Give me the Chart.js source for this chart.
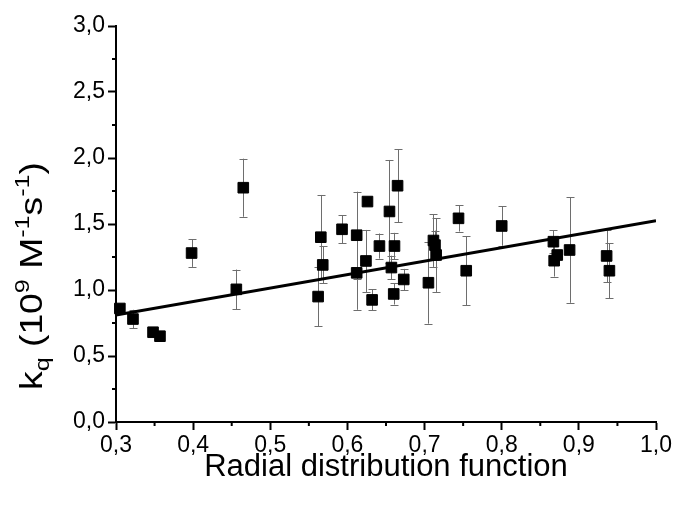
<!DOCTYPE html>
<html>
<head>
<meta charset="utf-8">
<script src="https://cdn.jsdelivr.net/npm/chart.js@4.4.1/dist/chart.umd.min.js"></script>
<style>
  html, body { margin: 0; padding: 0; background: #fff; }
  #wrap { width: 675px; height: 506px; position: relative; }
</style>
</head>
<body>
<div id="wrap"><canvas id="c" width="675" height="506"></canvas></div>
<script>
// ---- data ----
const xValues = [0.305,0.322,0.348,0.357,0.398,0.456,0.465,0.562,0.5655,0.568,0.593,0.612,0.612,0.624,0.626,0.632,0.6415,0.6545,0.657,0.660,0.661,0.665,0.673,0.705,0.7115,0.7135,0.715,0.744,0.754,0.800,0.867,0.868,0.872,0.888,0.936,0.9396];
const yValues = [0.86,0.78,0.68,0.65,1.28,1.005,1.775,0.95,1.40,1.19,1.46,1.415,1.13,1.22,1.67,0.925,1.333,1.595,1.17,0.97,1.333,1.79,1.08,1.055,1.375,1.34,1.265,1.543,1.146,1.485,1.366,1.222,1.265,1.303,1.258,1.146];
const yErrors = [0,0.07,0,0,0.105,0.15,0.22,0.225,0.32,0.14,0.105,0.33,0.28,0.235,0,0.08,0.095,0.39,0.09,0.08,0.1,0.275,0.08,0.31,0.2,0.11,0.28,0.10,0.263,0.15,0.085,0.12,0,0.40,0.2,0.21];
const fitX = [0.3, 1.0];
const fitY = [0.81, 1.525];
const xMinorTicks = [0.35,0.45,0.55,0.65,0.75,0.85,0.95];
const yMinorTicks = [0.25,0.75,1.25,1.75,2.25,2.75];
const xTitle = 'Radial distribution function';
const yTitleParts = [
  {t:'k', sup:0}, {t:'q', sup:-1}, {t:' (10', sup:0}, {t:'9', sup:1},
  {t:' M', sup:0}, {t:'-1', sup:1}, {t:'s', sup:0}, {t:'-1', sup:1}, {t:')', sup:0}
];

const FONT = '"Liberation Sans", Arial, sans-serif';
const fmt = v => Number(v).toFixed(1).replace('.', ',');

const errorBarPlugin = {
  id: 'errorBars',
  beforeDatasetsDraw(chart) {
    const {ctx, scales:{x, y}} = chart;
    ctx.save();
    ctx.strokeStyle = '#6e6e6e';
    ctx.lineWidth = 1;
    xValues.forEach((xv, i) => {
      const e = yErrors[i];
      if (!e) return;
      const px = Math.round(x.getPixelForValue(xv)) + 0.5;
      const top = y.getPixelForValue(yValues[i] + e);
      const bot = y.getPixelForValue(yValues[i] - e);
      ctx.beginPath();
      ctx.moveTo(px, top); ctx.lineTo(px, bot);
      ctx.moveTo(px - 4, Math.round(top) + 0.5); ctx.lineTo(px + 4, Math.round(top) + 0.5);
      ctx.moveTo(px - 4, Math.round(bot) + 0.5); ctx.lineTo(px + 4, Math.round(bot) + 0.5);
      ctx.stroke();
    });
    ctx.restore();
  }
};

const axisExtrasPlugin = {
  id: 'axisExtras',
  afterDraw(chart) {
    const {ctx, scales:{x, y}, chartArea} = chart;
    ctx.save();
    ctx.strokeStyle = '#000';
    ctx.lineWidth = 2;
    ctx.beginPath();
    xMinorTicks.forEach(v => {
      const px = x.getPixelForValue(v);
      ctx.moveTo(px, chartArea.bottom); ctx.lineTo(px, chartArea.bottom + 4);
    });
    yMinorTicks.forEach(v => {
      const py = y.getPixelForValue(v);
      ctx.moveTo(chartArea.left, py); ctx.lineTo(chartArea.left - 4, py);
    });
    ctx.stroke();

    // y axis title with sub/superscripts
    const big = 31, small = 21;
    ctx.fillStyle = '#000';
    ctx.textBaseline = 'alphabetic';
    let total = 0;
    yTitleParts.forEach(p => {
      ctx.font = (p.sup ? small : big) + 'px ' + FONT;
      p.w = ctx.measureText(p.t).width;
      total += p.w;
    });
    const cx = 42, cy = (chartArea.top + chartArea.bottom) / 2 + 52;
    ctx.translate(cx, cy);
    ctx.rotate(-Math.PI / 2);
    ctx.scale(1.2, 1);
    let pos = -total / 2;
    yTitleParts.forEach(p => {
      ctx.font = (p.sup ? small : big) + 'px ' + FONT;
      const dy = p.sup === 1 ? -13 : (p.sup === -1 ? 7 : 0);
      ctx.fillText(p.t, pos, dy);
      pos += p.w;
    });
    ctx.restore();
  }
};

const ctx = document.getElementById('c').getContext('2d');
new Chart(ctx, {
  type: 'scatter',
  data: {
    datasets: [
      {
        label: 'fit',
        type: 'line',
        data: fitX.map((v, i) => ({x: v, y: fitY[i]})),
        borderColor: '#000',
        borderWidth: 3,
        pointRadius: 0,
        showLine: true,
        fill: false,
        order: 1
      },
      {
        label: 'kq',
        data: xValues.map((v, i) => ({x: v, y: yValues[i]})),
        pointStyle: 'rect',
        pointRadius: 7.5,
        backgroundColor: '#000',
        borderColor: '#000',
        borderWidth: 1,
        clip: false,
        order: 2
      }
    ]
  },
  options: {
    responsive: false,
    animation: false,
    devicePixelRatio: 1,
    layout: { padding: { left: 0, top: 26, right: 19, bottom: 0 } },
    plugins: { legend: { display: false }, tooltip: { enabled: false } },
    scales: {
      x: {
        type: 'linear',
        min: 0.3, max: 1.0,
        afterFit: s => { s.height = 84; },
        ticks: {
          stepSize: 0.1,
          callback: fmt,
          color: '#000',
          font: { family: FONT, size: 23 },
          padding: 2,
          maxRotation: 0
        },
        grid: { display: true, drawOnChartArea: false, drawTicks: true, tickLength: 8, color: '#000', tickWidth: 2 },
        border: { display: true, color: '#000', width: 2 },
        title: {
          display: true, text: xTitle, color: '#000',
          font: { family: FONT, size: 31 },
          padding: { top: 0, bottom: 20 }
        }
      },
      y: {
        type: 'linear',
        min: 0, max: 3.0,
        afterFit: s => { s.width = 116; },
        ticks: {
          stepSize: 0.5,
          callback: fmt,
          color: '#000',
          font: { family: FONT, size: 23 },
          padding: 3
        },
        grid: { display: true, drawOnChartArea: false, drawTicks: true, tickLength: 8, color: '#000', tickWidth: 2 },
        border: { display: true, color: '#000', width: 2 }
      }
    }
  },
  plugins: [errorBarPlugin, axisExtrasPlugin]
});
</script>
</body>
</html>
